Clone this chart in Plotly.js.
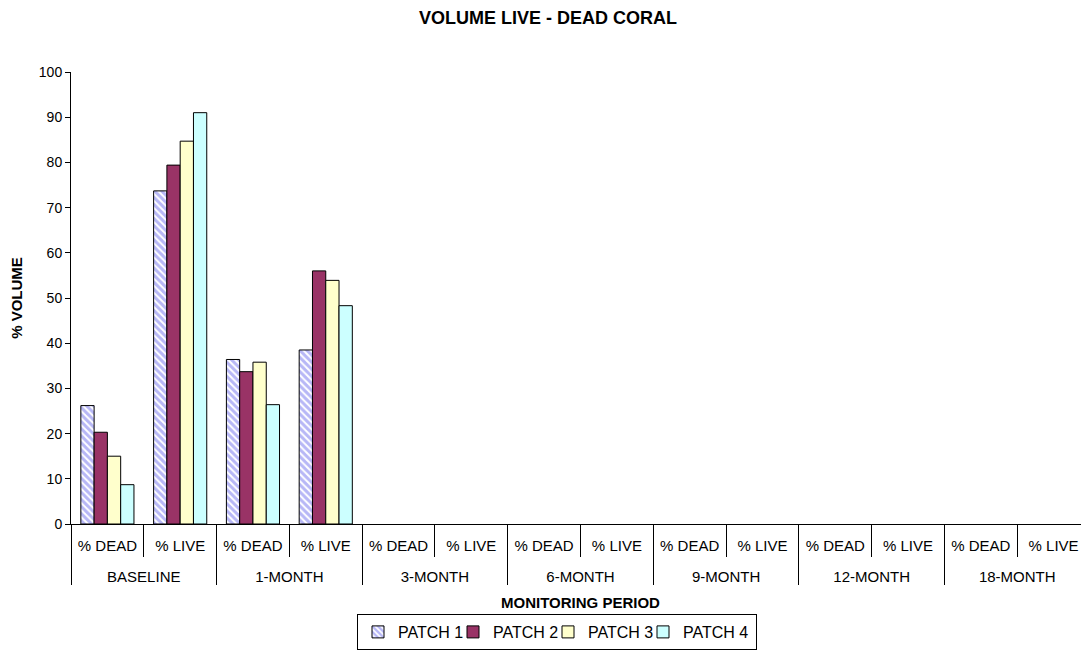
<!DOCTYPE html>
<html>
<head>
<meta charset="utf-8">
<script src="https://cdn.plot.ly/plotly-3.0.1.min.js"></script>
<style>
html, body { margin: 0; padding: 0; overflow: hidden; background: #fff; }
#chart { width: 1092px; height: 652px; }
</style>
</head>
<body>
<div id="chart"></div>
<script>
const periods = ["BASELINE","BASELINE","1-MONTH","1-MONTH","3-MONTH","3-MONTH","6-MONTH","6-MONTH","9-MONTH","9-MONTH","12-MONTH","12-MONTH","18-MONTH","18-MONTH"];
const measures = ["% DEAD","% LIVE","% DEAD","% LIVE","% DEAD","% LIVE","% DEAD","% LIVE","% DEAD","% LIVE","% DEAD","% LIVE","% DEAD","% LIVE"];
const patch1 = [26.2, 73.7, 36.4, 38.5, null, null, null, null, null, null, null, null, null, null];
const patch2 = [20.3, 79.4, 33.7, 56.0, null, null, null, null, null, null, null, null, null, null];
const patch3 = [15.0, 84.7, 35.8, 53.9, null, null, null, null, null, null, null, null, null, null];
const patch4 = [8.7, 91.0, 26.4, 48.3, null, null, null, null, null, null, null, null, null, null];
const seriesNames = ["PATCH 1","PATCH 2","PATCH 3","PATCH 4"];

// sub-category labels get an extra empty line so the period row sits lower, as in the reference
const measureLabels = measures.map(m => m + "<br> ");
const x = [periods, measureLabels];
const line = {color: "#000000", width: 1};
const traces = [
  {type: "bar", name: seriesNames[0], x: x, y: patch1,
   marker: {color: "#FFFFFF", line: line,
            pattern: {shape: "\\", fgcolor: "#7070EE", bgcolor: "#FFFFFF", size: 5, solidity: 0.6, fillmode: "overlay"}}},
  {type: "bar", name: seriesNames[1], x: x, y: patch2, marker: {color: "#993366", line: line}},
  {type: "bar", name: seriesNames[2], x: x, y: patch3, marker: {color: "#FFFFCC", line: line}},
  {type: "bar", name: seriesNames[3], x: x, y: patch4, marker: {color: "#CCFFFF", line: line}, legendwidth: 68}
];

const layout = {
  width: 1092, height: 652,
  margin: {l: 71, r: 2, t: 72, b: 128},
  paper_bgcolor: "#FFFFFF", plot_bgcolor: "#FFFFFF",
  font: {family: "Liberation Sans, Arial, sans-serif", size: 14, color: "#000000"},
  barmode: "group", bargap: 0.27, bargroupgap: 0,
  title: {text: "<b>VOLUME LIVE - DEAD CORAL</b>", font: {size: 18}, x: 548/1092, xref: "container", xanchor: "center", y: 1 - 18/652, yref: "container", yanchor: "middle"},
  xaxis: {
    type: "multicategory",
    showline: true, linecolor: "#000000", linewidth: 1,
    ticks: "outside", tickson: "boundaries", ticklen: 32, tickcolor: "#000000",
    ticklabelstandoff: 8,
    showdividers: true, dividercolor: "#000000", dividerwidth: 1,
    showgrid: false, zeroline: false,
    tickfont: {size: 15},
    title: {text: "<b>MONITORING PERIOD</b>", font: {size: 15}, standoff: 13}
  },
  yaxis: {
    range: [0, 100], dtick: 10, tick0: 0,
    showline: true, linecolor: "#000000", linewidth: 1,
    ticks: "outside", ticklen: 5, tickcolor: "#000000",
    showgrid: false, zeroline: false,
    tickfont: {size: 14},
    title: {text: "<b>% VOLUME</b>", font: {size: 15}, standoff: 12}
  },
  showlegend: true,
  legend: {orientation: "h", x: (557-71)/1019, xanchor: "center", yref: "container", y: 1 - 650/652, yanchor: "bottom",
           bordercolor: "#000000", borderwidth: 1, font: {size: 16}, traceorder: "normal",
           itemwidth: 30, tracegroupgap: 0, entrywidth: 50, entrywidthmode: "pixels"}
};

Plotly.newPlot("chart", traces, layout, {displayModeBar: false, staticPlot: true});
</script>
</body>
</html>
